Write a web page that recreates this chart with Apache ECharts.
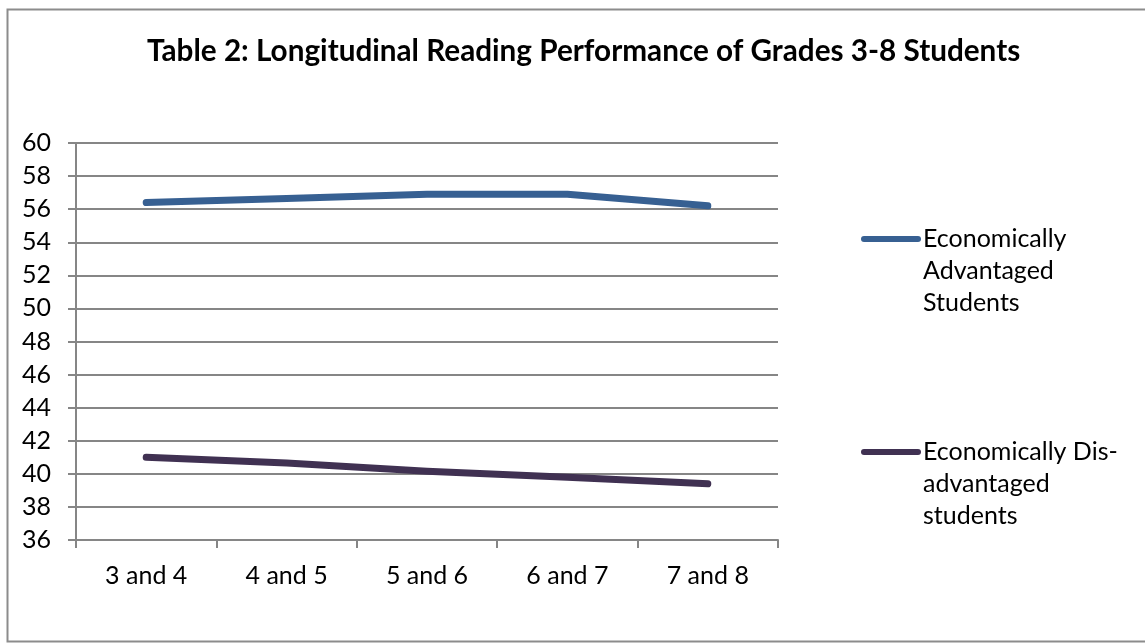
<!DOCTYPE html>
<html><head><meta charset="utf-8">
<script src="https://cdn.jsdelivr.net/npm/echarts@6/dist/echarts.min.js"></script>
<style>html,body{margin:0;padding:0;background:#fff}#c{width:1145px;height:644px}</style>
</head><body><div id="c"></div>
<script>
var categories = ['3 and 4','4 and 5','5 and 6','6 and 7','7 and 8'];
var advantaged = [56.4, 56.65, 56.9, 56.9, 56.2];
var disadvantaged = [41.0, 40.65, 40.15, 39.8, 39.4];
var seriesNames = ['Economically Advantaged Students', 'Economically Dis-advantaged students'];
var legendLabels = {};
legendLabels[seriesNames[0]] = 'Economically\nAdvantaged\nStudents';
legendLabels[seriesNames[1]] = 'Economically Dis-\nadvantaged\nstudents';
var titleText = 'Table 2: Longitudinal Reading Performance of Grades 3-8 Students';
var FONT = 'Lato';
var chart = echarts.init(document.getElementById('c'));
chart.setOption({
  animation: false,
  graphic: [{type:'rect', shape:{x:7.5,y:9.5,width:1150,height:632}, style:{fill:null, stroke:'#8c8c8c', lineWidth:2}, silent:true}],
  title: {text: titleText, left: 142, top: 31, textStyle:{fontFamily:FONT, fontWeight:'bold', fontSize:29.7, color:'#000'}},
  grid: {left:76, right:367, top:143, bottom:104, containLabel:false},
  legend: {
    orient:'vertical', left:861, top:159, padding:0, itemWidth:54, itemHeight:14, itemGap:53,
    data: seriesNames,
    formatter: function(n){ return '\n\n' + legendLabels[n]; },
    textStyle:{fontFamily:FONT, fontSize:25, color:'#000', lineHeight:32},
    lineStyle:{width:6, cap:'round'},
    itemStyle:{opacity:0}
  },
  xAxis: {
    type:'category', data: categories, boundaryGap:true,
    axisLine:{lineStyle:{color:'#868686', width:2}},
    axisTick:{show:true, length:8, lineStyle:{color:'#868686', width:2}},
    axisLabel:{fontFamily:FONT, fontSize:25, color:'#000', margin:23}
  },
  yAxis: {
    type:'value', min:36, max:60, interval:2,
    axisLine:{show:true, lineStyle:{color:'#868686', width:2}},
    axisTick:{show:true, length:8, lineStyle:{color:'#868686', width:2}},
    splitLine:{show:true, lineStyle:{color:'#868686', width:2}},
    axisLabel:{fontFamily:FONT, fontSize:25, color:'#000', margin:25}
  },
  series: [
    {name:seriesNames[0], type:'line', data:advantaged, symbol:'none', lineStyle:{color:'#376092', width:7, cap:'round', join:'round'}, itemStyle:{color:'#376092'}},
    {name:seriesNames[1], type:'line', data:disadvantaged, symbol:'none', lineStyle:{color:'#403152', width:7, cap:'round', join:'round'}, itemStyle:{color:'#403152'}}
  ]
});
</script></body></html>
